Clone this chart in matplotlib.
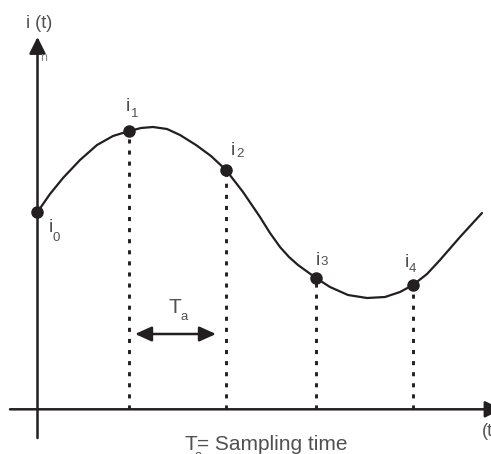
import matplotlib.pyplot as plt
from matplotlib.patches import FancyArrowPatch

# sampled values i0..i4 (time from the i axis, current above the t axis)
t_samples = [0, 92, 188.5, 278.5, 375.5]
i_samples = [197, 278, 239, 131, 124]
sample_subs = ['0', '1', '2', '3', '4']

# continuous signal i(t)
curve_t = [0, 12.5, 25.5, 42.5, 59.5, 75.5, 91.8, 103.5, 115.5, 129.5,
           142.5, 158.5, 173.5, 188.5, 205.5, 222.5, 232.5, 242.5, 251.5, 260.5,
           278.5, 292.5, 310.5, 329.5, 347.5, 362.5, 375.5, 389.5, 402.5, 422.5,
           444.5]
curve_i = [197.3, 215.3, 231.3, 249.3, 264.3, 273.3, 278.3, 281.3, 282.3, 280.3,
           274.3, 264.3, 253.3, 239.3, 217.3, 192.3, 176.3, 162.3, 152.3, 144.3,
           131.3, 122.3, 114.3, 111.3, 112.3, 117.3, 124.3, 135.3, 149.3, 172.3,
           196.3]

# label offsets from each sample dot, in pixels: (i letter), (subscript)
i_offsets = [(11, -20), (-4, 20), (5, 15), (0, 13), (-8, 18)]
sub_offsets = [(15, -29), (1, 14), (10, 13), (4, 13), (-4, 13)]

ink = '#231f20'
grey = '#505050'
plt.rcParams['font.family'] = ['Liberation Sans', 'DejaVu Sans']

fig = plt.figure(figsize=(4.91, 4.54), dpi=100)
ax = fig.add_axes([0, 0, 1, 1])
ax.set_xlim(-37.5, 453.5)
ax.set_ylim(-44.7, 409.3)
ax.axis('off')

# axes with arrow heads
ax.add_patch(FancyArrowPatch((-27.5, 0), (464, 0),
                             arrowstyle='-|>,head_length=1.0,head_width=0.5',
                             mutation_scale=10, lw=1.8, color=ink,
                             shrinkA=0, shrinkB=0))
ax.add_patch(FancyArrowPatch((0, -28.7), (0, 372.3),
                             arrowstyle='-|>,head_length=1.0,head_width=0.5',
                             mutation_scale=10, lw=1.8, color=ink,
                             shrinkA=0, shrinkB=0))

# dotted drop lines
ax.vlines(t_samples[1:], 0, i_samples[1:], colors=ink, lw=2.1,
          linestyles=[(0, (1.4, 2.4))])

# signal and samples
ax.plot(curve_t, curve_i, color=ink, lw=1.6, solid_joinstyle='round',
        solid_capstyle='round')
ax.plot(t_samples, i_samples, 'o', ms=8, color=ink, zorder=4)

for t, v, s, o1, o2 in zip(t_samples, i_samples, sample_subs, i_offsets, sub_offsets):
    ax.annotate('i', (t, v), xytext=o1, textcoords='offset pixels',
                ha='left', va='baseline', fontsize=14, color=grey)
    ax.annotate(s, (t, v), xytext=o2, textcoords='offset pixels',
                ha='left', va='baseline', fontsize=9.5, color=grey)

# sampling interval arrow
ax.add_patch(FancyArrowPatch((97.5, 75.3), (178.5, 75.3),
                             arrowstyle='<|-|>,head_length=1.0,head_width=0.45',
                             mutation_scale=10, lw=1.8, color=ink,
                             shrinkA=0, shrinkB=0))
ax.text(131.5, 96.3, 'T', ha='left', va='baseline', fontsize=15, color=grey)
ax.text(143, 89.3, 'a', ha='left', va='baseline', fontsize=9.5, color=grey)

# axis labels
ax.text(2, 386.3, 'i (t)', ha='center', va='center', fontsize=13, color=grey)
ax.text(3, 351, 'n', ha='left', va='center', fontsize=9, color='#888888')
ax.text(444.5, -22.5, '(t)', ha='left', va='center', fontsize=13, color=grey)

# caption
ax.text(147.5, -40.7, 'T', ha='left', va='baseline', fontsize=15, color=grey)
ax.text(157.5, -49.7, 'a', ha='left', va='baseline', fontsize=9.5, color=grey)
ax.text(159.5, -40.7, '= Sampling time', ha='left', va='baseline', fontsize=15,
        color=grey)

fig.savefig('out.png', dpi=100)
